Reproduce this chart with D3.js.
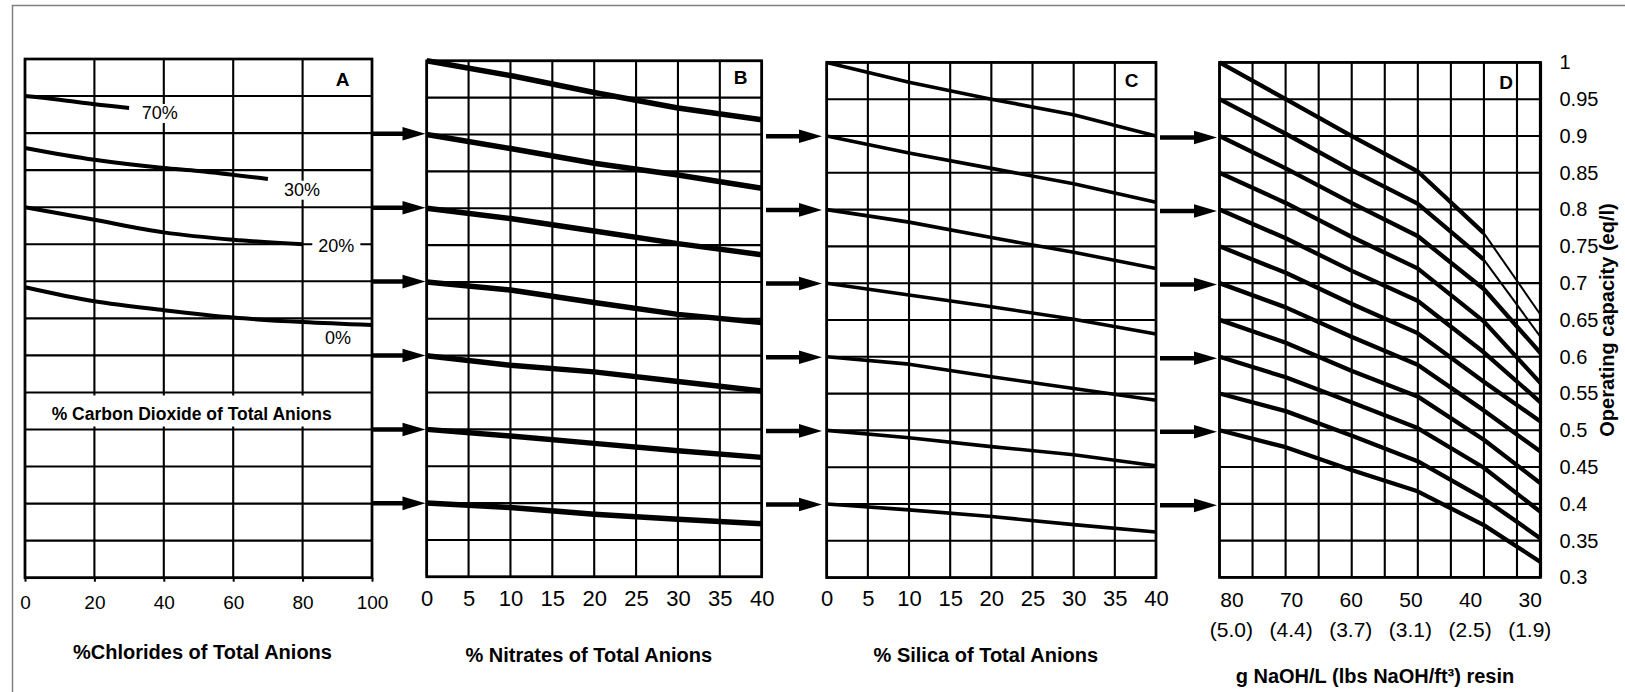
<!DOCTYPE html>
<html>
<head>
<meta charset="utf-8">
<script src="https://cdn.jsdelivr.net/npm/d3@7"></script>
<style>
  body { margin: 0; background: #fff; }
  svg { display: block; }
</style>
</head>
<body>
<svg id="chart" width="1625" height="692"></svg>
<script>
// ---------------- DATA ----------------
const capacityTicks = [1, 0.95, 0.9, 0.85, 0.8, 0.75, 0.7, 0.65, 0.6, 0.55, 0.5, 0.45, 0.4, 0.35, 0.3];
const chlorideTicks = [0, 20, 40, 60, 80, 100];
const nitrateTicks = [0, 5, 10, 15, 20, 25, 30, 35, 40];
const silicaTicks = [0, 5, 10, 15, 20, 25, 30, 35, 40];
const naohTicks = [80, 70, 60, 50, 40, 30];
const naohLbsLabels = ["(5.0)", "(4.4)", "(3.7)", "(3.1)", "(2.5)", "(1.9)"];
const arrowLevels = [0.9, 0.8, 0.7, 0.6, 0.5, 0.4];

// Panel A: % CO2 curves (x = % chlorides, y = operating capacity)
const co2Labels = ["70%", "30%", "20%", "0%"];
const co2X70 = [0, 10, 20, 30];
const co2Y70 = [0.950, 0.945, 0.939, 0.934];
const co2X30 = [0, 20, 40, 50, 70];
const co2Y30 = [0.880, 0.864, 0.853, 0.849, 0.838];
const co2X20 = [0, 20, 40, 60, 80];
const co2Y20 = [0.800, 0.783, 0.766, 0.756, 0.750];
const co2X0 = [0, 20, 40, 60, 80, 100];
const co2Y0 = [0.692, 0.673, 0.661, 0.651, 0.645, 0.641];

// Panel B: % nitrates
const nitrateX = [0, 10, 20, 30, 40];
const nitrate100 = [1.0, 0.980, 0.957, 0.936, 0.920];
const nitrate90 = [0.9, 0.881, 0.861, 0.845, 0.827];
const nitrate80 = [0.8, 0.786, 0.769, 0.752, 0.737];
const nitrate70 = [0.7, 0.689, 0.672, 0.656, 0.645];
const nitrate60 = [0.6, 0.587, 0.578, 0.565, 0.552];
const nitrate50 = [0.5, 0.491, 0.481, 0.471, 0.462];
const nitrate40 = [0.4, 0.394, 0.385, 0.378, 0.372];

// Panel C: % silica
const silicaX = [0, 10, 20, 30, 40];
const silica100 = [1.0, 0.973, 0.950, 0.929, 0.900];
const silica90 = [0.9, 0.877, 0.856, 0.835, 0.810];
const silica80 = [0.8, 0.783, 0.762, 0.742, 0.720];
const silica70 = [0.7, 0.684, 0.668, 0.651, 0.631];
const silica60 = [0.6, 0.590, 0.573, 0.557, 0.541];
const silica50 = [0.5, 0.490, 0.478, 0.467, 0.452];
const silica40 = [0.4, 0.392, 0.383, 0.372, 0.362];

// Panel D: regenerant level (g NaOH/L)
const naohX = [82, 70.9, 59.9, 48.8, 37.7, 28.2];
const naoh100 = [1.00, 0.950, 0.900, 0.852, 0.768, 0.657];
const naoh95 = [0.95, 0.903, 0.854, 0.808, 0.732, 0.627];
const naoh90 = [0.90, 0.856, 0.809, 0.764, 0.692, 0.605];
const naoh85 = [0.85, 0.809, 0.763, 0.720, 0.648, 0.564];
const naoh80 = [0.80, 0.761, 0.717, 0.676, 0.606, 0.538];
const naoh75 = [0.75, 0.714, 0.672, 0.632, 0.566, 0.512];
const naoh70 = [0.70, 0.667, 0.627, 0.589, 0.527, 0.471];
const naoh65 = [0.65, 0.619, 0.581, 0.546, 0.487, 0.428];
const naoh60 = [0.60, 0.572, 0.538, 0.503, 0.449, 0.389];
const naoh55 = [0.55, 0.526, 0.493, 0.458, 0.407, 0.353];
const naoh50 = [0.50, 0.477, 0.446, 0.417, 0.371, 0.321];

// ---------------- LAYOUT ----------------
const FONT = '"Liberation Sans", Arial, Helvetica, sans-serif';
const svg = d3.select("#chart");

svg.append("rect").attr("width", 1625).attr("height", 692).attr("fill", "#fff");
// outer frame (left and top visible)
svg.append("path").attr("d", "M12.5,692 V5.5 H1625")
  .attr("fill", "none").attr("stroke", "#808080").attr("stroke-width", 1.5);

const xA = d3.scaleLinear().domain([0, 100]).range([25, 372]);
const yA = d3.scaleLinear().domain([0.3, 1]).range([577.7, 59]);
const xB = d3.scaleLinear().domain([0, 40]).range([426.7, 761.7]);
const yB = d3.scaleLinear().domain([0.3, 1]).range([576.8, 60.8]);
const xC = d3.scaleLinear().domain([0, 40]).range([826.7, 1156]);
const yC = d3.scaleLinear().domain([0.3, 1]).range([577.6, 62.4]);
const xD = d3.scaleLinear().domain([82, 28.2]).range([1219.5, 1540.5]);
const yD = d3.scaleLinear().domain([0.3, 1]).range([577.4, 62.4]);
const dGrid = d3.range(82, 30, -5.54).concat([28.2]);

function drawGrid(x, y, xs) {
  const g = svg.append("g").attr("stroke", "#000");
  const [x0, x1] = x.range();
  const [yb, yt] = y.range();
  g.selectAll("line.h").data(capacityTicks).join("line")
    .attr("x1", x0).attr("x2", x1)
    .attr("y1", d => y(d)).attr("y2", d => y(d))
    .attr("stroke-width", 2.1);
  g.selectAll("line.v").data(xs).join("line")
    .attr("x1", d => x(d)).attr("x2", d => x(d))
    .attr("y1", yt).attr("y2", yb)
    .attr("stroke-width", 2.1);
  g.append("rect").attr("x", x0).attr("y", yt).attr("width", x1 - x0).attr("height", yb - yt)
    .attr("fill", "none").attr("stroke-width", 2.7);
  return g;
}

drawGrid(xA, yA, chlorideTicks);
drawGrid(xB, yB, nitrateTicks);
drawGrid(xC, yC, silicaTicks);
drawGrid(xD, yD, dGrid);
// thicker right border of D
svg.append("line").attr("x1", xD(28.2)).attr("x2", xD(28.2))
  .attr("y1", yD(1)).attr("y2", yD(0.3)).attr("stroke", "#000").attr("stroke-width", 3.2);

// ---- Panel A inner label with white background
const co2Title = svg.append("text")
  .attr("x", 191.7).attr("y", 420).attr("text-anchor", "middle")
  .style("font-family", FONT).style("font-weight", "bold").style("font-size", "17.5px")
  .text("% Carbon Dioxide of Total Anions");
svg.insert("rect", "text")
  .attr("x", xA(0) + 2).attr("width", xA(100) - xA(0) - 4)
  .attr("y", yA(0.55) + 3).attr("height", yA(0.5) - yA(0.55) - 6)
  .attr("fill", "#fff");

// ---- Panel A curves and labels
const aSeries = [
  { xs: co2X70, ys: co2Y70, label: co2Labels[0], lx: 141.7, ly: 119 },
  { xs: co2X30, ys: co2Y30, label: co2Labels[1], lx: 284, ly: 195.7 },
  { xs: co2X20, ys: co2Y20, label: co2Labels[2], lx: 318.3, ly: 251.7 },
  { xs: co2X0, ys: co2Y0, label: co2Labels[3], lx: 325, ly: 344 }
];
aSeries.forEach(s => {
  const t = svg.append("text").attr("x", s.lx).attr("y", s.ly)
    .style("font-family", FONT).style("font-size", "18px").text(s.label);
  const bb = t.node().getBBox();
  svg.insert("rect", "text").attr("x", bb.x - 6).attr("y", bb.y + 1)
    .attr("width", bb.width + 12).attr("height", bb.height - 1).attr("fill", "#fff");
});
const lineA = d3.line().x(d => xA(d[0])).y(d => yA(d[1])).curve(d3.curveMonotoneX);
aSeries.forEach(s => {
  svg.append("path").attr("d", lineA(d3.zip(s.xs, s.ys)))
    .attr("fill", "none").attr("stroke", "#000").attr("stroke-width", 4);
});

// ---- Panel B curves
const lineB = d3.line().x(d => xB(d[0])).y(d => yB(d[1]));
[nitrate100, nitrate90, nitrate80, nitrate70, nitrate60, nitrate50, nitrate40].forEach(ys => {
  svg.append("path").attr("d", lineB(d3.zip(nitrateX, ys)))
    .attr("fill", "none").attr("stroke", "#000").attr("stroke-width", 5.5)
    .attr("stroke-linejoin", "round");
});

// ---- Panel C curves
const lineC = d3.line().x(d => xC(d[0])).y(d => yC(d[1]));
[silica100, silica90, silica80, silica70, silica60, silica50, silica40].forEach(ys => {
  svg.append("path").attr("d", lineC(d3.zip(silicaX, ys)))
    .attr("fill", "none").attr("stroke", "#000").attr("stroke-width", 3.6)
    .attr("stroke-linejoin", "round");
});

// ---- Panel D curves
const lineD = d3.line().x(d => xD(d[0])).y(d => yD(d[1]));
const dLines = [naoh100, naoh95, naoh90, naoh85, naoh80, naoh75, naoh70, naoh65, naoh60, naoh55, naoh50];
const thinTailCount = 2;
dLines.forEach((ys, i) => {
  const pts = d3.zip(naohX, ys);
  if (i < thinTailCount) {
    svg.append("path").attr("d", lineD(pts.slice(0, 5)))
      .attr("fill", "none").attr("stroke", "#000").attr("stroke-width", 4.3).attr("stroke-linejoin", "round");
    svg.append("path").attr("d", lineD(pts.slice(4)))
      .attr("fill", "none").attr("stroke", "#000").attr("stroke-width", 2);
  } else {
    svg.append("path").attr("d", lineD(pts))
      .attr("fill", "none").attr("stroke", "#000").attr("stroke-width", 4.3).attr("stroke-linejoin", "round");
  }
});

// ---- Panel letters
[["A", 342.7, 86], ["B", 740.7, 84], ["C", 1131.7, 86.5], ["D", 1506, 89.3]].forEach(([t, x, y]) => {
  svg.append("text").attr("x", x).attr("y", y).attr("text-anchor", "middle")
    .style("font-family", FONT).style("font-weight", "bold").style("font-size", "19px").text(t);
});

// ---- Arrows between panels
function arrows(xs, xe, y) {
  const g = svg.append("g");
  arrowLevels.forEach(v => {
    const yy = y(v);
    g.append("line").attr("x1", xs).attr("x2", xe - 18).attr("y1", yy).attr("y2", yy)
      .attr("stroke", "#000").attr("stroke-width", 4.5);
    g.append("path").attr("d", `M${xe},${yy} L${xe - 23},${yy - 6.8} L${xe - 23},${yy + 6.8} Z`)
      .attr("fill", "#000");
  });
}
arrows(372, 425.5, v => (yA(v) + yB(v)) / 2);
arrows(766, 822, v => (yB(v) + yC(v)) / 2 + 1);
arrows(1160, 1217, v => yD(v) + 1.5);

// ---- Axes
function styleAxis(g, size) {
  g.attr("font-family", null).attr("font-size", null);
  g.select(".domain").remove();
  g.selectAll("text").style("font-family", FONT).style("font-size", size).attr("fill", "#000");
  g.selectAll("line").attr("stroke", "#000");
}
const axA = svg.append("g").attr("transform", `translate(0,${yA(0.3)})`)
  .call(d3.axisBottom(xA).tickValues(chlorideTicks).tickSize(4).tickFormat(d3.format("d")));
styleAxis(axA, "19px");
axA.selectAll("line").attr("stroke-width", 2);
axA.selectAll("text").attr("y", 31).attr("dy", null);

const axB = svg.append("g").attr("transform", `translate(0,${yB(0.3)})`)
  .call(d3.axisBottom(xB).tickValues(nitrateTicks).tickSize(0).tickFormat(d3.format("d")));
styleAxis(axB, "22px");
axB.selectAll("text").attr("y", 29).attr("dy", null);

const axC = svg.append("g").attr("transform", `translate(0,${yC(0.3)})`)
  .call(d3.axisBottom(xC).tickValues(silicaTicks).tickSize(0).tickFormat(d3.format("d")));
styleAxis(axC, "22px");
axC.selectAll("text").attr("y", 28).attr("dy", null);

const axD = svg.append("g").attr("transform", `translate(0,${yD(0.3)})`)
  .call(d3.axisBottom(xD).tickValues(naohTicks).tickSize(0).tickFormat(d3.format("d")));
styleAxis(axD, "21px");
axD.selectAll("text").attr("y", 29.5).attr("dy", null);
svg.append("g").selectAll("text").data(naohTicks).join("text")
  .attr("x", d => xD(d)).attr("y", 637).attr("text-anchor", "middle")
  .style("font-family", FONT).style("font-size", "21px")
  .text((d, i) => naohLbsLabels[i]);

const axR = svg.append("g").attr("transform", `translate(${xD(28.2)},0)`)
  .call(d3.axisRight(yD).tickValues(capacityTicks).tickSize(0).tickPadding(19).tickFormat(d3.format("~g")));
styleAxis(axR, "20px");

// ---- Axis titles
function title(t, x, y) {
  svg.append("text").attr("x", x).attr("y", y).attr("text-anchor", "middle")
    .style("font-family", FONT).style("font-weight", "bold").style("font-size", "20px").text(t);
}
title("%Chlorides of Total Anions", 202.5, 659);
title("% Nitrates of Total Anions", 588.8, 661.7);
title("% Silica of Total Anions", 985.8, 661.7);
title("g NaOH/L (lbs NaOH/ft³) resin", 1375, 683);
svg.append("text").attr("transform", "translate(1614,320) rotate(-90)").attr("text-anchor", "middle")
  .style("font-family", FONT).style("font-weight", "bold").style("font-size", "20px")
  .text("Operating capacity (eq/l)");
</script>
</body>
</html>
